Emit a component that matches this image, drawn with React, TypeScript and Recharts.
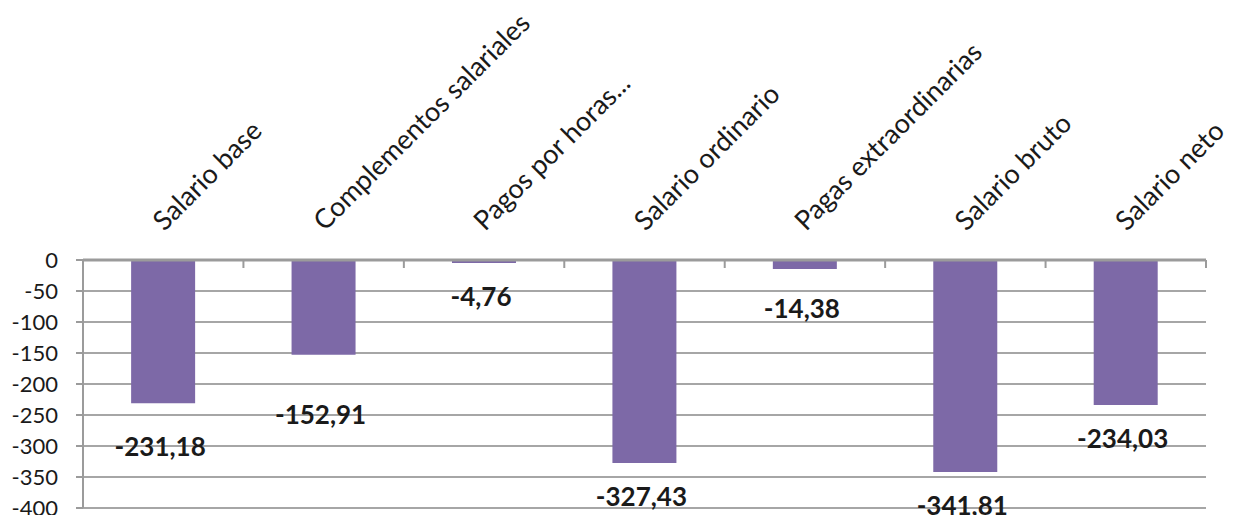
import React from "react";
import { BarChart, Bar, XAxis, YAxis, CartesianGrid, LabelList } from "recharts";

const categories = [
  "Salario base",
  "Complementos salariales",
  "Pagos por horas...",
  "Salario ordinario",
  "Pagas extraordinarias",
  "Salario bruto",
  "Salario neto",
];
const values = [-231.18, -152.91, -4.76, -327.43, -14.38, -341.81, -234.03];
const valueLabels = ["-231,18", "-152,91", "-4,76", "-327,43", "-14,38", "-341,81", "-234,03"];
const yTicks = [0, -50, -100, -150, -200, -250, -300, -350, -400];

// layout-only tweaks (extra vertical nudge of each data label, px)
const labelNudge = [10, 26, 0, 0, 6, 0, 0];

const W = 1233;
const H = 515;
const M = { top: 0, right: 27, bottom: 7, left: 0 };
const Y_AXIS_W = 83;
const X_AXIS_H = 260;
const PLOT_W = W - M.left - M.right - Y_AXIS_W;
const STEP = PLOT_W / categories.length;
const FONT = "Lato, 'Open Sans', 'DejaVu Sans', sans-serif";
const AXIS_COLOR = "#9b9b9b";
const GRID_COLOR = "#a6a6a6";
const BAR_COLOR = "#7d69a7";

const data = categories.map((name, i) => ({ name, value: values[i], label: valueLabels[i], idx: i }));

const XTick = (props: any) => {
  const { x, y, payload } = props;
  const ax = x + 1;
  const ay = y - 28;
  return (
    <g>
      <line x1={x + STEP / 2} x2={x + STEP / 2} y1={y} y2={y + 8} stroke={AXIS_COLOR} strokeWidth={2} />
      <text
        x={ax}
        y={ay}
        transform={`rotate(-45, ${ax}, ${ay})`}
        textAnchor="start"
        fontFamily={FONT}
        fontSize={27}
        fill="#1a1a1a"
      >
        {payload.value}
      </text>
    </g>
  );
};

const DataLabel = (props: any) => {
  const { x, y, width, height, index } = props;
  const end = Math.max(y, y + height);
  const cx = x + width / 2 - 3;
  return (
    <text
      x={cx}
      y={end + 43 + (labelNudge[index] || 0)}
      textAnchor="middle"
      fontFamily={FONT}
      fontWeight="bold"
      fontSize={26}
      fill="#1a1a1a"
    >
      {valueLabels[index]}
    </text>
  );
};

export default function App() {
  return (
    <div style={{ position: "absolute", left: 0, top: 0, width: W, height: H, overflow: "hidden", background: "#fff" }}>
      <BarChart width={W} height={H} data={data} margin={M} barCategoryGap="30%">
        <CartesianGrid horizontal={true} vertical={false} stroke={GRID_COLOR} strokeWidth={2} />
        <XAxis
          dataKey="name"
          orientation="top"
          height={X_AXIS_H}
          interval={0}
          tickLine={false}
          tickSize={0}
          tickMargin={0}
          axisLine={{ stroke: AXIS_COLOR, strokeWidth: 3 }}
          tick={<XTick />}
        />
        <YAxis
          type="number"
          domain={[-400, 0]}
          ticks={yTicks}
          interval={0}
          width={Y_AXIS_W}
          tickSize={7}
          tickMargin={18}
          tickLine={{ stroke: AXIS_COLOR, strokeWidth: 2 }}
          axisLine={{ stroke: AXIS_COLOR, strokeWidth: 2 }}
          tick={{ fontFamily: FONT, fontSize: 22, fill: "#1a1a1a" }}
        />
        <Bar dataKey="value" fill={BAR_COLOR} isAnimationActive={false}>
          <LabelList dataKey="label" content={<DataLabel />} />
        </Bar>
      </BarChart>
    </div>
  );
}
